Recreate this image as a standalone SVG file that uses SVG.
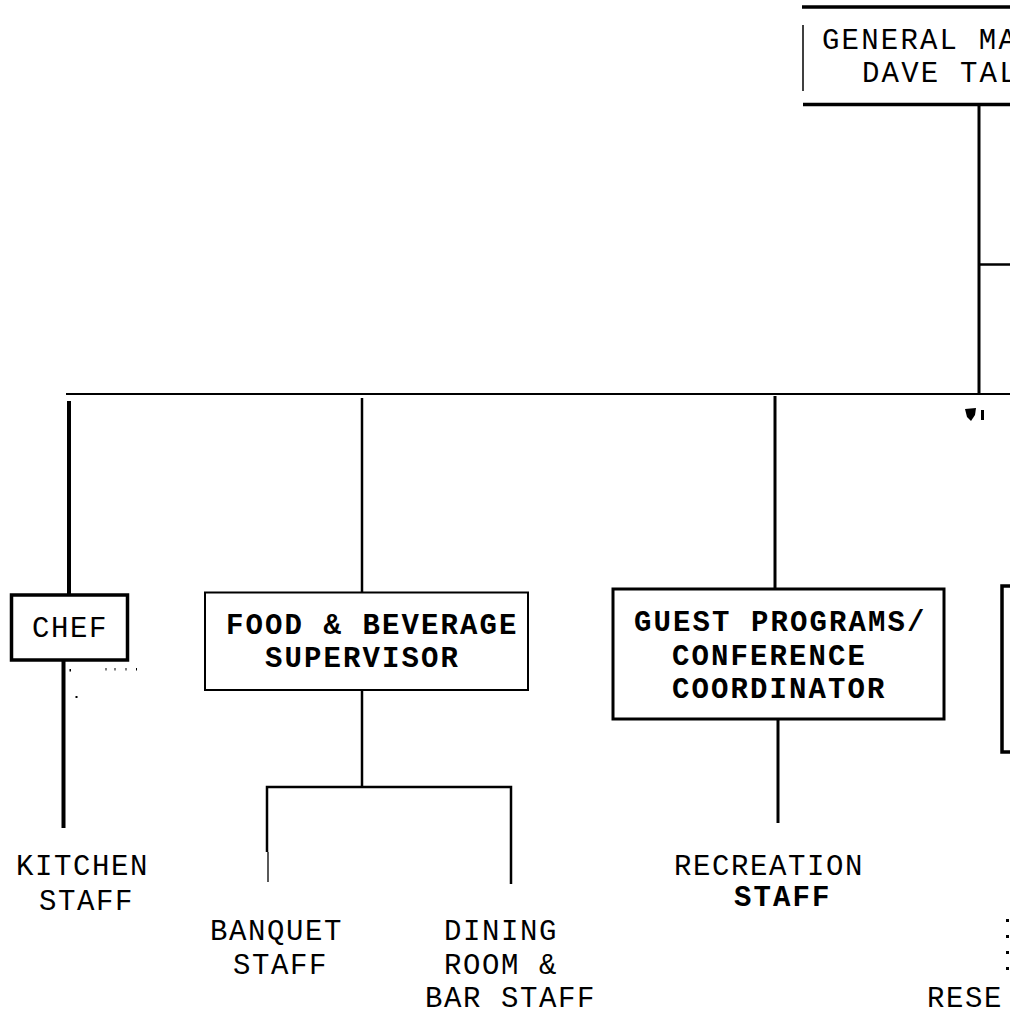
<svg xmlns="http://www.w3.org/2000/svg" width="1010" height="1014" viewBox="0 0 1010 1014">
<style>
.ln{stroke:#000;fill:none}
.box{fill:#fff;stroke:#000}
.t{font-family:"Liberation Mono",monospace;font-size:29px;letter-spacing:1.6px;fill:#000}
.g{font-family:"Liberation Mono",monospace;font-size:29px;letter-spacing:2.2px;fill:#000}
.b{font-family:"Liberation Mono",monospace;font-weight:bold;font-size:29px;letter-spacing:2.1px;fill:#000}
.mk{fill:#000}
</style>
<rect width="1010" height="1014" fill="#fff"/>
<g id="connectors">
<line class="ln" x1="979" y1="106" x2="979" y2="393" stroke-width="3"/>
<line class="ln" x1="979" y1="264.5" x2="1010" y2="264.5" stroke-width="2.5"/>
<line class="ln" x1="66" y1="394" x2="1010" y2="394" stroke-width="2"/>
<line class="ln" x1="69" y1="401" x2="69" y2="595" stroke-width="4"/>
<line class="ln" x1="362" y1="398" x2="362" y2="592" stroke-width="2.5"/>
<line class="ln" x1="775" y1="396" x2="775" y2="589" stroke-width="3"/>
<line class="ln" x1="63.5" y1="660" x2="63.5" y2="828" stroke-width="4"/>
<line class="ln" x1="362" y1="690" x2="362" y2="787" stroke-width="2.5"/>
<polyline class="ln" points="267,852 267,787 511,787 511,884" stroke-width="2.5"/>
<line class="ln" x1="268" y1="852" x2="268" y2="882" stroke-width="1.3"/>
<line class="ln" x1="778" y1="719" x2="778" y2="823" stroke-width="3"/>
</g>
<g id="general-manager">
<line class="ln" x1="802" y1="7" x2="1010" y2="7" stroke-width="3.5"/>
<line class="ln" x1="803" y1="104.5" x2="1010" y2="104.5" stroke-width="3.5"/>
<line class="ln" x1="803" y1="25" x2="803" y2="91" stroke-width="1.5"/>
<text class="g" x="822" y="49">GENERAL MA</text>
<text class="g" x="862" y="82">DAVE TAL</text>
</g>
<g id="chef">
<rect class="box" x="11.5" y="595" width="116" height="65" stroke-width="3.5"/>
<text class="t" x="32" y="637">CHEF</text>
</g>
<g id="food-beverage">
<rect class="box" x="205" y="592.5" width="323" height="97.5" stroke-width="2"/>
<text class="b" x="226" y="634">FOOD &amp; BEVERAGE</text>
<text class="b" x="265" y="667">SUPERVISOR</text>
</g>
<g id="guest-programs">
<rect class="box" x="613" y="589" width="331" height="130" stroke-width="3"/>
<text class="b" x="634" y="631">GUEST PROGRAMS/</text>
<text class="b" x="672" y="665">CONFERENCE</text>
<text class="b" x="672" y="698">COORDINATOR</text>
</g>
<g id="right-box">
<polyline class="ln" points="1012,586 1002,586 1002,752 1012,752" stroke-width="3.5"/>
</g>
<g id="kitchen-staff">
<text class="t" x="16" y="875">KITCHEN</text>
<text class="t" x="39" y="910">STAFF</text>
</g>
<g id="banquet-staff">
<text class="t" x="210" y="940">BANQUET</text>
<text class="t" x="233" y="974">STAFF</text>
</g>
<g id="dining-staff">
<text class="t" x="444" y="940">DINING</text>
<text class="t" x="444" y="973.5">ROOM &amp;</text>
<text class="t" x="425" y="1007">BAR STAFF</text>
</g>
<g id="recreation-staff">
<text class="t" x="674" y="875">RECREATION</text>
<text class="b" x="734" y="906">STAFF</text>
</g>
<g id="reservations">
<text class="t" x="927" y="1007">RESE</text>
<rect class="mk" x="1006" y="919" width="3" height="3"/>
<rect class="mk" x="1006" y="935" width="3" height="3"/>
<rect class="mk" x="1006" y="951" width="3" height="3"/>
<rect class="mk" x="1006" y="967" width="3" height="3"/>
</g>
<g id="marks">
<path class="mk" d="M965,409 L976,408 L975,415 L971,421 L967,417 Z"/>
<rect class="mk" x="981" y="410" width="3" height="10"/>
<rect class="mk" x="69.5" y="669" width="1.5" height="2.5"/>
<rect class="mk" x="105.5" y="668" width="1" height="2.5"/>
<rect class="mk" x="114.5" y="668" width="1" height="2.5"/>
<rect class="mk" x="125.5" y="668" width="1" height="2.5"/>
<rect class="mk" x="136" y="668" width="1" height="2.5"/>
<rect class="mk" x="75.5" y="696" width="2" height="2"/>
</g>
</svg>
